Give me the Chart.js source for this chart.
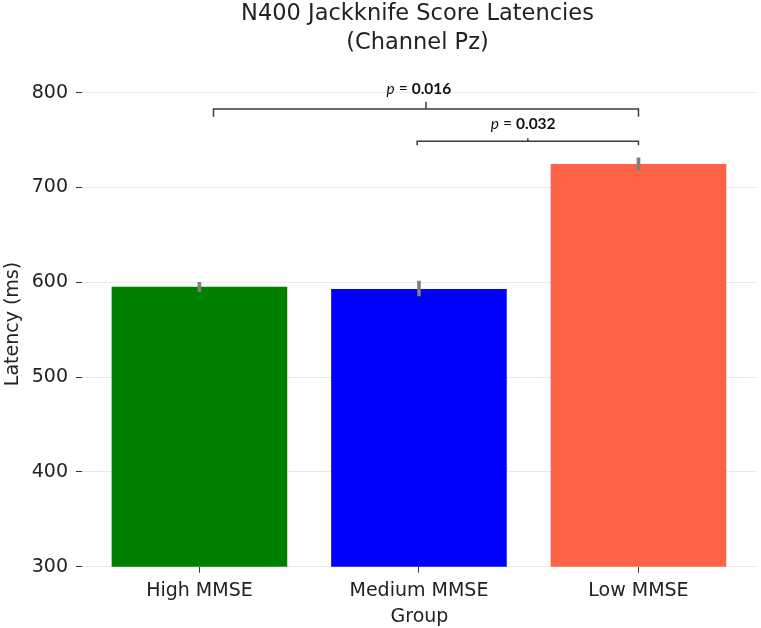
<!DOCTYPE html>
<html>
<head>
<meta charset="utf-8">
<script src="https://cdn.jsdelivr.net/npm/chart.js@4"></script>
<style>
  body { margin: 0; background: #fff; }
</style>
</head>
<body>
<canvas id="myChart" width="761" height="628"></canvas>
<script>
// Data
const groups = ['High MMSE', 'Medium MMSE', 'Low MMSE']
const latency = [595.4, 592.9, 724.8]
const errLow = [590, 585.5, 718.5]
const errHigh = [600, 601.4, 731.4]
const barColors = ['#008000', '#0000ff', '#ff6347']
const yTicks = [300, 400, 500, 600, 700, 800]
const titleLines = ['N400 Jackknife Score Latencies', '(Channel Pz)']

// significance brackets: [left x, right x, centre x], [base y, end y, tip y]
const bracketX = [[0.064, 2.0, 1.032], [0.992, 2.0, 1.496]]
const bracketY = [[782.8, 774.7, 790.5], [748.7, 744.5, 751.9]]
const pValues = ['0.016', '0.032']
const pTextX = [1.0, 1.475]
const pTextY = [803.9, 766.6]

function bracketPoints(i) {
  const [l, r, c] = bracketX[i]
  const [base, end, tip] = bracketY[i]
  return [
    { x: l, y: end }, { x: l, y: base }, { x: c, y: base }, { x: c, y: tip },
    { x: c, y: base }, { x: r, y: base }, { x: r, y: end }
  ]
}

// title centred over the plot area (like matplotlib), plus the "p = value" labels
const textPlugin = {
  id: 'texts',
  afterDraw(chart) {
    const ctx = chart.ctx
    const xs = chart.scales.x, ys = chart.scales.y
    const area = chart.chartArea
    ctx.save()
    ctx.fillStyle = '#222'
    ctx.textAlign = 'center'
    ctx.textBaseline = 'middle'
    ctx.font = '22.5px "DejaVu Sans"'
    titleLines.forEach((t, i) => {
      ctx.fillText(t, (area.left + area.right) / 2 - 2, 14.5 + i * 28.6)
    })

    ctx.fillStyle = '#111'
    pValues.forEach((v, i) => {
      const parts = [
        { t: 'p', f: 'italic 15.5px Lato' },
        { t: ' = ', f: '15.5px Lato' },
        { t: v, f: 'bold 15.5px Lato' }
      ]
      let w = 0
      parts.forEach(p => { ctx.font = p.f; p.w = ctx.measureText(p.t).width; w += p.w })
      let x = xs.getPixelForValue(pTextX[i]) - w / 2
      const y = ys.getPixelForValue(pTextY[i])
      ctx.textAlign = 'left'
      parts.forEach(p => {
        ctx.font = p.f
        ctx.fillText(p.t, x, y)
        x += p.w
      })
    })
    ctx.restore()
  }
}

const data = {
  datasets: [
    {
      type: 'bar',
      label: 'Latency',
      data: groups.map((g, i) => ({ x: i, y: latency[i] })),
      backgroundColor: barColors,
      categoryPercentage: 1,
      barPercentage: 0.8,
      grouped: false,
      order: 3
    },
    {
      type: 'bar',
      label: 'CI',
      data: groups.map((g, i) => ({ x: i, y: [errLow[i], errHigh[i]] })),
      backgroundColor: '#7f7f7f',
      barThickness: 3,
      grouped: false,
      order: 2
    },
    ...bracketX.map((b, i) => ({
      type: 'line',
      label: 'bracket' + i,
      data: bracketPoints(i),
      borderColor: '#3a3a3a',
      borderWidth: 1.5,
      pointRadius: 0,
      tension: 0,
      fill: false,
      order: 1
    }))
  ]
}

const config = {
  data,
  options: {
    responsive: false,
    animation: false,
    layout: { padding: { left: 0, right: 4, top: 81.3, bottom: 0 } },
    plugins: {
      legend: { display: false },
      tooltip: { enabled: false },
      title: { display: false }
    },
    scales: {
      x: {
        type: 'linear',
        offset: false,
        min: -0.535,
        max: 2.54,
        afterBuildTicks: s => { s.ticks = groups.map((g, i) => ({ value: i })) },
        afterFit: s => { s.height = 61.3 },
        ticks: {
          callback: v => groups[v],
          color: '#222',
          padding: 7,
          font: { family: 'DejaVu Sans', size: 19 }
        },
        grid: { offset: false, drawOnChartArea: false, drawTicks: true, tickLength: 6, tickColor: '#333' },
        border: { display: false },
        title: {
          display: true,
          text: 'Group',
          color: '#222',
          font: { family: 'DejaVu Sans', size: 19 },
          padding: { top: 0, bottom: 0 }
        }
      },
      y: {
        min: 300,
        max: 812,
        afterBuildTicks: s => { s.ticks = yTicks.map(v => ({ value: v })) },
        afterFit: s => { s.width = 82 },
        ticks: {
          color: '#222',
          padding: 8,
          font: { family: 'DejaVu Sans', size: 19 }
        },
        grid: { color: '#e9e9e9', lineWidth: 1, tickLength: 6, tickColor: '#333' },
        border: { display: false },
        title: {
          display: true,
          text: 'Latency (ms)',
          color: '#222',
          font: { family: 'DejaVu Sans', size: 19 },
          padding: { top: 2, bottom: 0 }
        }
      }
    }
  },
  plugins: [textPlugin]
}

const myChart = new Chart(document.getElementById('myChart'), config)
</script>
</body>
</html>
